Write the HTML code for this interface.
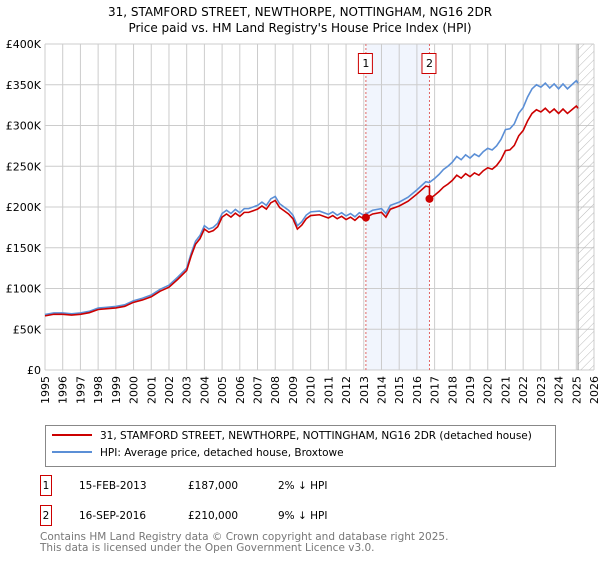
<!DOCTYPE html>
<html><head><meta charset="utf-8">
<style>
body{margin:0;background:#fff;font-family:"Liberation Sans","DejaVu Sans",sans-serif;}
svg text{font-family:"DejaVu Sans","Liberation Sans",sans-serif;}
</style></head>
<body>
<svg id="chart" width="600" height="560" viewBox="0 0 600 560" xmlns="http://www.w3.org/2000/svg">
<defs>
<pattern id="hatch" width="6" height="6" patternUnits="userSpaceOnUse" patternTransform="rotate(45)">
<line x1="0" y1="0" x2="0" y2="6" stroke="#bbb" stroke-width="1"/>
</pattern>
</defs>
<text x="300" y="16" text-anchor="middle" font-size="12">31, STAMFORD STREET, NEWTHORPE, NOTTINGHAM, NG16 2DR</text>
<text x="300" y="32" text-anchor="middle" font-size="12">Price paid vs. HM Land Registry's House Price Index (HPI)</text>
<g id="grid"></g>
<g id="marks"></g>
<g id="legend">
<rect x="45.5" y="425.5" width="510" height="41" fill="#fff" stroke="#888"/>
<line x1="52" y1="435" x2="92" y2="435" stroke="#cc0000" stroke-width="2"/>
<text x="100" y="439" font-size="10.5">31, STAMFORD STREET, NEWTHORPE, NOTTINGHAM, NG16 2DR (detached house)</text>
<line x1="52" y1="452" x2="92" y2="452" stroke="#5b8fd6" stroke-width="2"/>
<text x="100" y="456" font-size="10.5">HPI: Average price, detached house, Broxtowe</text>
</g>
<g font-size="10.5">
<rect x="40.5" y="475.5" width="11" height="20" fill="#fff" stroke="#cc0000"/>
<text x="46" y="489" text-anchor="middle">1</text>
<text x="79" y="489">15-FEB-2013</text>
<text x="188" y="489">£187,000</text>
<text x="278" y="489">2% ↓ HPI</text>
<rect x="40.5" y="505.5" width="11" height="20" fill="#fff" stroke="#cc0000"/>
<text x="46" y="519" text-anchor="middle">2</text>
<text x="79" y="519">16-SEP-2016</text>
<text x="188" y="519">£210,000</text>
<text x="278" y="519">9% ↓ HPI</text>
</g>
<text x="40" y="540" font-size="10.5" fill="#777">Contains HM Land Registry data © Crown copyright and database right 2025.</text>
<text x="40" y="551" font-size="10.5" fill="#777">This data is licensed under the Open Government Licence v3.0.</text>
</svg>
<script>
const yearTicks=[1995,1996,1997,1998,1999,2000,2001,2002,2003,2004,2005,2006,2007,2008,2009,2010,2011,2012,2013,2014,2015,2016,2017,2018,2019,2020,2021,2022,2023,2024,2025,2026];
const priceTicks=[0,50,100,150,200,250,300,350,400];
const priceTickLabels=["£0","£50K","£100K","£150K","£200K","£250K","£300K","£350K","£400K"];
const hpiDates=[1995,1995.5,1996,1996.5,1997,1997.5,1998,1998.5,1999,1999.5,2000,2000.5,2001,2001.5,2002,2002.5,2003,2003.25,2003.5,2003.75,2004,2004.25,2004.5,2004.75,2005,2005.25,2005.5,2005.75,2006,2006.25,2006.5,2007,2007.25,2007.5,2007.75,2008,2008.25,2008.5,2008.75,2009,2009.25,2009.5,2009.75,2010,2010.5,2011,2011.25,2011.5,2011.75,2012,2012.25,2012.5,2012.75,2013,2013.5,2014,2014.25,2014.5,2015,2015.5,2016,2016.5,2016.7,2017,2017.25,2017.5,2017.75,2018,2018.25,2018.5,2018.75,2019,2019.25,2019.5,2019.75,2020,2020.25,2020.5,2020.75,2021,2021.25,2021.5,2021.75,2022,2022.25,2022.5,2022.75,2023,2023.25,2023.5,2023.75,2024,2024.25,2024.5,2024.75,2025,2025.1];
const hpiValues=[68,70,70,69,70,72,76,77,78,80,85,88,92,99,104,114,125,143,158,165,177,173,175,180,192,196,192,197,193,198,198,202,206,202,210,213,204,200,196,190,177,182,190,194,195,191,194,190,193,189,192,188,193,190,196,198,192,202,206,212,221,231,230,235,240,246,250,255,262,258,264,260,265,262,268,272,270,275,283,295,296,302,315,322,335,345,350,347,352,346,351,345,351,345,350,355,352];
const saleDates=[2013.12,2016.71];
const salePrices=[187,210];
const saleLabels=["1","2"];
const x0=45,x1=594,yTop=44,yBot=370;
const xs=d=>x0+(d-1995)/(2026-1995)*(x1-x0);
const ys=v=>yBot-v/400*(yBot-yTop);
const NS="http://www.w3.org/2000/svg";
function mk(t,a,p){const e=document.createElementNS(NS,t);for(const k in a)e.setAttribute(k,a[k]);p.appendChild(e);return e;}
const grid=document.getElementById('grid'),marks=document.getElementById('marks');
const sh=mk('rect',{x:xs(saleDates[0]),y:yTop,width:xs(saleDates[1])-xs(saleDates[0]),height:yBot-yTop,fill:'#eef3fc',opacity:0.8},grid);


yearTicks.forEach(y=>{
 const l=mk('line',{x1:xs(y),x2:xs(y),y1:yTop,y2:yBot,stroke:'#ccc','stroke-width':1},grid);
 
 
 const t=mk('text',{x:0,y:0,'font-size':'11','text-anchor':'end',transform:`translate(${xs(y)+4},${yBot+6}) rotate(-90)`},grid);
 t.textContent=y;
 
 
});
priceTicks.forEach((v,i)=>{
 const l=mk('line',{x1:x0,x2:x1,y1:ys(v),y2:ys(v),stroke:'#ccc','stroke-width':1},grid);
 
 
 const t=mk('text',{x:x0-4,y:ys(v)+4,'font-size':'11','text-anchor':'end'},grid);
 t.textContent=priceTickLabels[i];
 
 
});
const hx=xs(2025.1);
const ht=mk('rect',{x:hx,y:yTop,width:x1-hx,height:yBot-yTop,fill:'url(#hatch)'},grid);


const hl=mk('line',{x1:hx,x2:hx,y1:yTop,y2:yBot,stroke:'#999','stroke-width':1},grid);


saleDates.forEach((d,i)=>{
 const l=mk('line',{x1:xs(d),x2:xs(d),y1:yTop,y2:yBot,stroke:'#e06666','stroke-width':1,'stroke-dasharray':'2,2'},grid);
 
 
 const r=mk('rect',{x:xs(d)-7.5,y:53.5,width:14,height:20,fill:'#fff',stroke:'#cc0000'},grid);
 
 
 const t=mk('text',{x:xs(d),y:67,'font-size':'11','text-anchor':'middle'},grid);
 t.textContent=saleLabels[i];
 
 
});
const hp=mk('polyline',{points:hpiDates.map((d,i)=>xs(d)+','+ys(hpiValues[i])).join(' '),fill:'none',stroke:'#5b8fd6','stroke-width':1.6},marks);


function hpiAt(d){for(let i=1;i<hpiDates.length;i++){if(d<=hpiDates[i]){const f=(d-hpiDates[i-1])/(hpiDates[i]-hpiDates[i-1]);return hpiValues[i-1]+f*(hpiValues[i]-hpiValues[i-1]);}}return hpiValues[hpiValues.length-1];}
const pts=[];
hpiDates.forEach((d,i)=>{
 let k=0;for(let j=0;j<saleDates.length;j++)if(d>=saleDates[j])k=j;
 if(i>0&&saleDates.some(s=>s>hpiDates[i-1]&&s<=d)){const s=saleDates.find(s=>s>hpiDates[i-1]&&s<=d);const kk=saleDates.indexOf(s);if(kk>0){const pr=salePrices[kk-1]/hpiAt(saleDates[kk-1]);pts.push([s,hpiAt(s)*pr]);}pts.push([s,salePrices[kk]]);}
 const ratio=salePrices[k]/hpiAt(saleDates[k]);
 pts.push([d,hpiValues[i]*ratio]);
});
const pl=mk('polyline',{points:pts.map(p=>xs(p[0])+','+ys(p[1])).join(' '),fill:'none',stroke:'#cc0000','stroke-width':1.6},marks);


saleDates.forEach((d,i)=>{
 const c=mk('circle',{cx:xs(d),cy:ys(salePrices[i]),r:4,fill:'#cc0000'},marks);
 
 
});
</script>
</body></html>
